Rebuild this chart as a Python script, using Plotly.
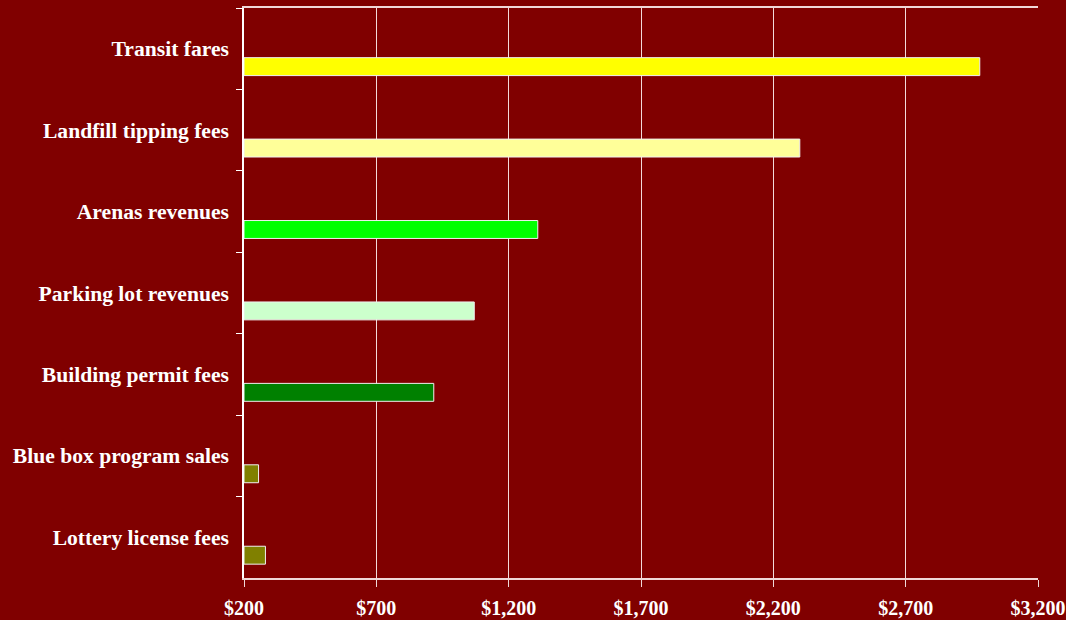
import plotly.graph_objects as go

categories = ["Transit fares", "Landfill tipping fees", "Arenas revenues",
              "Parking lot revenues", "Building permit fees",
              "Blue box program sales", "Lottery license fees"]
values = [2980, 2300, 1310, 1070, 917, 255, 281]
colors = ["#FFFF00", "#FFFF99", "#00FF00", "#CCFFCC", "#008000", "#808000", "#808000"]
tick_vals = [200, 700, 1200, 1700, 2200, 2700, 3200]
tick_text = ["$200", "$700", "$1,200", "$1,700", "$2,200", "$2,700", "$3,200"]

BG = "#800000"
FONT = "Liberation Serif"

fig = go.Figure()
fig.add_trace(go.Bar(
    y=categories,
    x=[v - 200 for v in values],
    base=200,
    orientation="h",
    marker=dict(color=colors, line=dict(color="#F0F0F0", width=1)),
    width=0.22,
    offset=0.11,
    hoverinfo="skip",
))

fig.update_layout(
    width=1066, height=620,
    margin=dict(l=244, r=28, t=8, b=42),
    paper_bgcolor=BG, plot_bgcolor=BG,
    showlegend=False,
    font=dict(family=FONT, color="white"),
    xaxis=dict(
        range=[200, 3200],
        tickvals=tick_vals, ticktext=tick_text,
        tickfont=dict(family=FONT, size=20, color="white", weight="bold"),
        showgrid=True, gridcolor="#F2DADA", gridwidth=1,
        showline=True, linecolor="#F0D8D8", linewidth=1.5, mirror=True,
        ticks="outside", ticklen=7, tickcolor="#F0D8D8", tickwidth=1,
        zeroline=False, fixedrange=True,
        ticklabelstandoff=4,
        automargin=False,
    ),
    yaxis=dict(
        categoryorder="array", categoryarray=categories,
        autorange="reversed",
        range=[6.5, -0.5],
        tickson="boundaries",
        ticks="outside", ticklen=6, tickcolor="white", tickwidth=1,
        tickfont=dict(family=FONT, size=21.6, color="white", weight="bold"),
        showline=True, linecolor="white", linewidth=1.5,
        showgrid=False, zeroline=False, fixedrange=True,
        ticklabelstandoff=9,
        automargin=False,
    ),
)

fig.write_html(
    "out.html",
    config={"displayModeBar": False},
    post_script="document.body.style.margin='0';document.body.style.background='#800000';",
)
